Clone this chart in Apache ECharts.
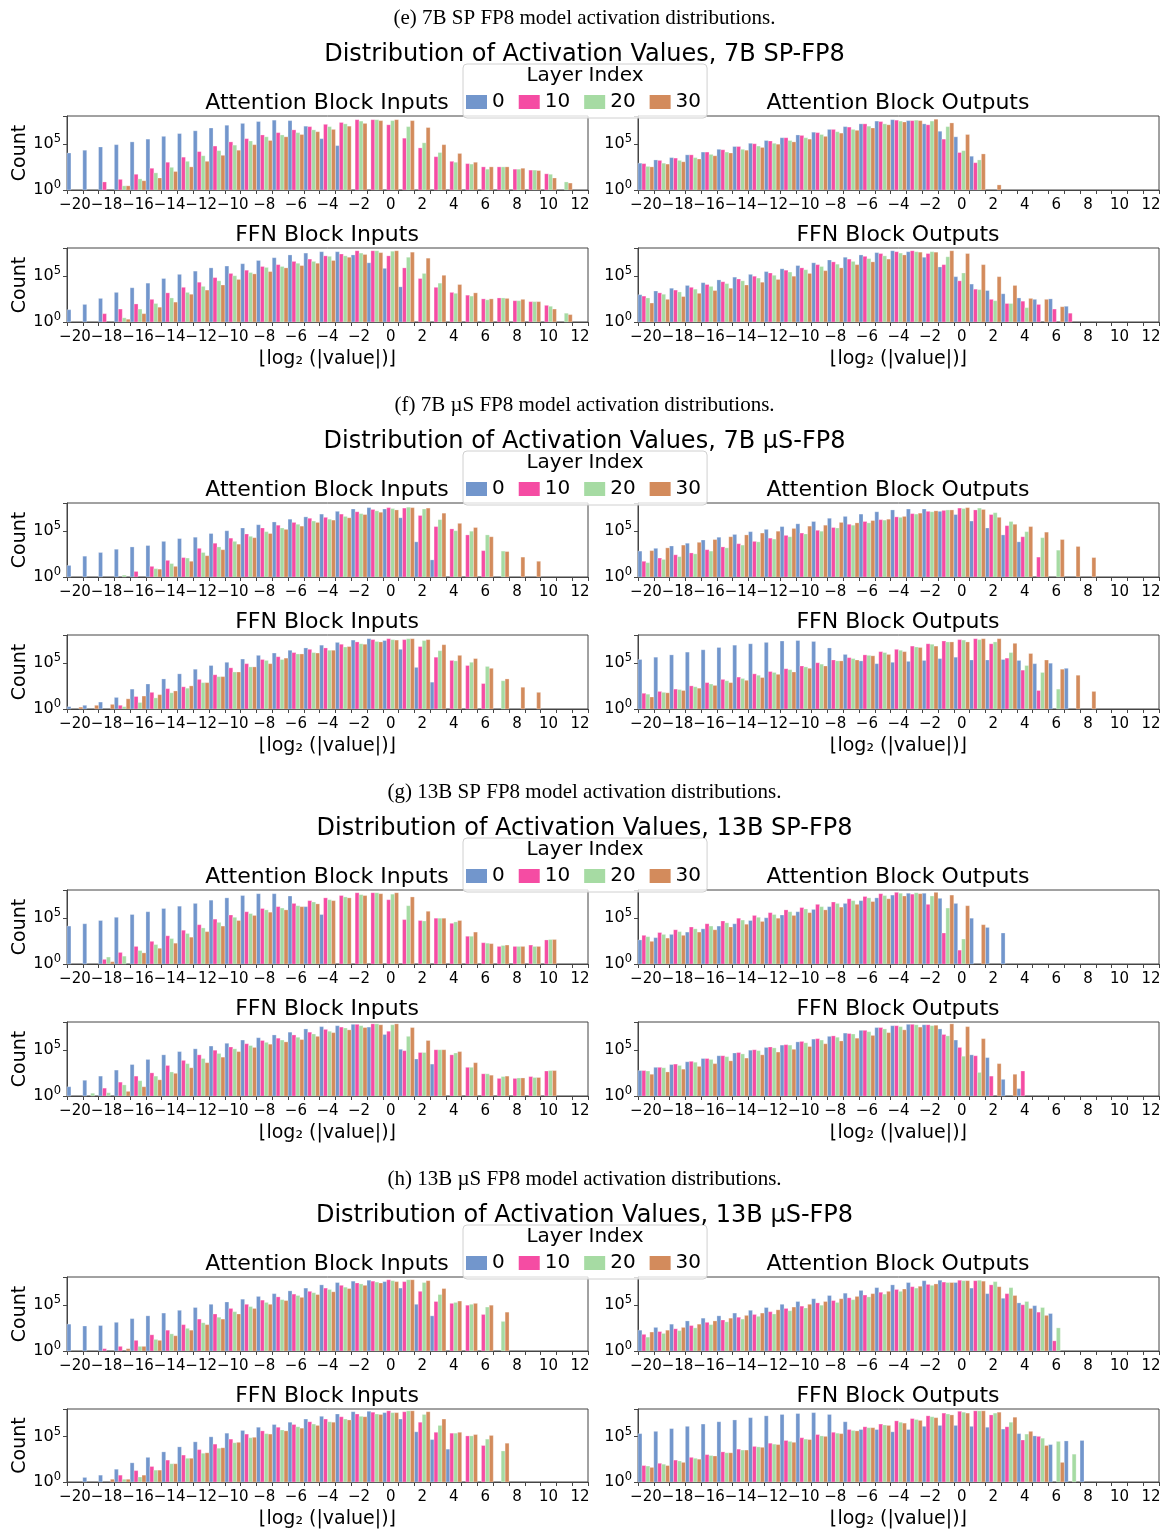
<!DOCTYPE html>
<html>
<head>
<meta charset="utf-8">
<title>Distribution of Activation Values</title>
<script src="https://cdn.jsdelivr.net/npm/echarts@6/dist/echarts.min.js"></script>
<style>
  html, body { margin: 0; background: #fff; }
  #chart { width: 1169px; height: 1530px; }
</style>
</head>
<body>
<div id="chart"></div>
<script>
// x bins: floor(log2(|value|)), one band per integer
const bins = ['−20','−19','−18','−17','−16','−15','−14','−13','−12','−11','−10','−9','−8','−7','−6','−5','−4','−3','−2','−1','0','1','2','3','4','5','6','7','8','9','10','11','12'];
const layers = ['0', '10', '20', '30'];
const colors = ['#7296cc', '#f54ca3', '#a6dba3', '#d38b5c'];

// bar heights are log10(count), starting at bin -20; _ = empty bin
const _ = null;

// (e) 7B SP-FP8
const e_attnIn_0  = [4.0,4.3,4.65,4.9,5.2,5.5,5.8,6.1,6.4,6.7,7.0,7.2,7.4,7.55,7.5,6.9,5.55,4.8];
const e_attnIn_10 = [_,_,0.87,1.15,1.7,2.35,3.0,3.55,4.15,4.75,5.2,5.55,5.95,6.2,6.5,6.85,7.1,7.3,7.6,7.6,7.05,5.6,4.55,3.6,3.1,2.85,2.5,2.5,2.25,2.15,1.75];
const e_attnIn_20 = [_,_,_,0.45,1.2,1.85,2.45,3.1,3.7,4.25,4.85,5.3,5.75,5.95,6.2,6.5,6.85,7.15,7.45,7.6,7.5,6.85,5.1,4.05,3.0,2.8,2.25,2.5,2.25,2.15,1.7,0.87];
const e_attnIn_30 = [_,_,_,0.45,1.0,1.3,2.0,2.5,3.1,3.75,4.3,4.9,5.35,5.75,6.0,6.3,6.55,6.9,7.2,7.5,7.6,7.5,6.75,4.9,3.95,3.0,2.5,2.5,2.35,2.1,1.3,0.75];
const e_attnOut_0  = [2.9,3.25,3.5,3.8,4.1,4.4,4.7,5.05,5.35,5.65,5.95,6.25,6.55,6.85,7.15,7.45,7.6,7.5,7.15,6.35,5.75,3.65];
const e_attnOut_10 = [2.85,3.2,3.45,3.8,4.1,4.35,4.7,5.0,5.3,5.65,5.9,6.2,6.55,6.8,7.15,7.4,7.55,7.5,7.05,5.5,4.05,2.95];
const e_attnOut_20 = [2.55,2.9,3.2,3.5,3.85,4.1,4.4,4.75,5.05,5.35,5.65,6.0,6.3,6.55,6.9,7.15,7.45,7.55,7.45,6.85,4.25,3.25];
const e_attnOut_30 = [2.5,2.8,3.05,3.35,3.7,4.0,4.3,4.6,4.95,5.2,5.5,5.8,6.15,6.45,6.7,7.05,7.35,7.5,7.65,7.25,6.0,3.9,0.55];
const e_ffnIn_0  = [1.33,1.9,2.55,3.2,3.7,4.2,4.7,5.15,5.5,5.85,6.05,6.3,6.65,6.95,7.25,7.45,7.6,7.6,7.25,6.4,5.8,3.8];
const e_ffnIn_10 = [_,_,0.9,1.4,1.95,2.45,3.15,3.75,4.3,4.8,5.25,5.6,6.0,6.2,6.55,6.8,7.15,7.35,7.7,7.7,7.15,5.85,4.7,3.75,3.2,2.9,2.5,2.6,2.3,2.2,1.8];
const e_ffnIn_20 = [_,_,_,0.45,1.4,2.0,2.6,3.2,3.85,4.45,5.0,5.35,5.9,6.0,6.35,6.55,7.1,7.15,7.45,7.7,7.65,7.0,5.25,4.2,3.1,2.8,2.4,2.6,2.3,2.2,1.7,0.95];
const e_ffnIn_30 = [_,_,_,0.3,0.9,1.6,2.15,3.0,3.45,4.0,4.6,5.2,5.45,5.85,6.1,6.35,6.65,7.0,7.3,7.5,7.7,7.55,6.9,5.05,4.05,3.15,2.5,2.55,2.45,2.2,1.4,0.8];
const e_ffnOut_0  = [2.95,3.35,3.65,3.95,4.25,4.55,4.85,5.15,5.45,5.75,6.1,6.4,6.7,7.0,7.25,7.5,7.7,7.6,7.0,5.95,4.9,4.1,3.4,3.05,2.6,2.45,2.5,1.7];
const e_ffnOut_10 = [2.8,3.15,3.45,3.75,4.05,4.35,4.65,4.95,5.3,5.6,5.85,6.2,6.5,6.8,7.1,7.4,7.6,7.7,7.4,6.2,4.45,3.55,2.45,2.0,2.25,1.9,1.4,0.95];
const e_ffnOut_20 = [2.6,3.0,3.25,3.55,3.85,4.15,4.45,4.75,5.05,5.4,5.65,6.0,6.25,6.55,6.85,7.15,7.45,7.6,7.6,7.05,5.3,3.5,2.3,2.0,1.55];
const e_ffnOut_30 = [2.05,2.45,2.75,3.1,3.4,3.65,4.0,4.3,4.6,4.95,5.25,5.55,5.85,6.2,6.5,6.8,7.25,7.55,7.55,7.7,7.4,6.2,4.9,3.95,2.55,2.45,1.65];

// (f) 7B uS-FP8
const f_attnIn_0  = [1.25,2.25,2.65,3.0,3.25,3.4,3.85,4.15,4.3,4.7,5.0,5.3,5.65,5.95,6.25,6.5,6.8,7.1,7.35,7.5,7.35,6.4,3.8,1.85];
const f_attnIn_10 = [_,_,_,_,0.6,1.15,1.8,2.1,3.1,3.65,4.2,4.65,5.3,5.6,5.9,6.35,6.45,6.8,7.05,7.3,7.5,7.45,6.65,5.45,5.2,4.55,2.85];
const f_attnIn_20 = [_,_,_,0.2,_,0.9,1.45,2.05,2.65,3.25,3.85,4.4,4.9,5.3,5.7,6.05,6.25,6.55,6.85,7.15,7.4,7.55,7.35,6.2,5.0,4.95,4.55,2.8];
const f_attnIn_30 = [_,_,_,_,_,0.85,1.15,1.7,2.3,2.95,3.55,4.25,4.7,5.15,5.5,5.9,6.15,6.4,6.75,7.0,7.25,7.5,7.45,6.9,5.8,5.35,4.35,2.75,2.15,1.7];
const f_attnOut_0  = [2.8,3.1,3.35,3.65,4.0,4.3,4.6,4.9,5.15,5.45,5.75,6.0,6.35,6.55,6.8,7.05,7.25,7.35,7.35,7.1,6.75,6.05,5.3,4.55,3.8];
const f_attnOut_10 = [1.7,2.05,2.4,2.6,2.95,3.25,3.6,3.85,4.2,4.5,4.75,5.05,5.35,5.7,6.0,6.2,6.5,6.85,7.1,7.2,7.45,7.25,6.75,5.55,4.35,2.15];
const f_attnOut_20 = [1.55,1.9,2.2,2.5,2.8,3.15,3.45,3.8,4.1,4.35,4.65,4.95,5.3,5.6,5.85,6.15,6.45,6.8,7.05,7.25,7.4,7.45,6.95,6.0,4.9,4.25,2.9];
const f_attnOut_30 = [2.85,3.15,3.45,3.75,4.05,4.35,4.55,4.75,4.95,5.25,5.5,5.6,5.9,5.85,6.1,6.25,6.55,6.9,7.15,7.25,7.5,7.3,6.45,5.7,5.45,4.85,4.05,3.3,2.1];
const f_ffnIn_0  = [0.25,0.4,0.75,1.25,2.15,2.7,3.25,3.8,4.3,4.7,5.05,5.4,5.8,6.05,6.35,6.6,6.9,7.2,7.45,7.6,7.4,6.45,4.5,2.9];
const f_ffnIn_10 = [_,_,_,0.4,1.35,1.8,2.2,2.4,3.2,3.7,4.45,4.9,5.35,5.65,6.1,6.45,6.6,7.0,7.25,7.5,7.6,7.5,6.75,5.6,5.25,4.7,2.75];
const f_ffnIn_20 = [_,_,_,0.25,0.7,1.2,1.75,2.25,2.85,3.5,4.0,4.55,5.25,5.35,5.95,6.1,6.35,6.7,7.05,7.3,7.5,7.6,7.4,6.3,5.2,5.05,4.6,3.05];
const f_ffnIn_30 = [0.2,0.4,0.5,1.1,1.4,1.55,1.95,2.5,2.85,3.5,4.0,4.55,4.9,5.5,5.95,6.05,6.35,6.75,7.0,7.25,7.45,7.6,7.5,6.95,5.8,5.45,4.4,3.25,2.35,1.8];
const f_ffnOut_0  = [5.35,5.6,5.85,6.15,6.4,6.65,6.9,7.05,7.2,7.35,7.4,7.3,6.6,5.9,5.2,4.9,5.05,5.15,5.25,5.45,5.6,5.3,5.3,5.35,5.25,4.9,4.95,4.4];
const f_ffnOut_10 = [1.7,1.9,2.15,2.5,2.85,3.2,3.45,3.8,4.05,4.35,4.65,5.0,5.3,5.55,5.85,6.2,6.45,6.8,7.05,7.35,7.5,7.6,7.05,5.5,4.2,2.0];
const f_ffnOut_20 = [1.6,1.8,2.1,2.4,2.7,3.05,3.3,3.65,3.95,4.25,4.55,4.85,5.2,5.45,5.8,6.1,6.35,6.7,7.0,7.25,7.45,7.5,7.25,6.1,4.7,3.95,2.15];
const f_ffnOut_30 = [1.3,1.75,2.0,2.25,2.55,2.85,3.1,3.4,3.75,4.0,4.4,4.65,5.2,5.3,5.75,5.9,6.2,6.65,6.8,7.25,7.25,7.6,7.6,7.1,6.0,5.3,4.3,3.65,1.9];

// (g) 13B SP-FP8
const g_attnIn_0  = [4.1,4.35,4.7,5.05,5.35,5.65,6.0,6.25,6.55,6.9,7.15,7.4,7.6,7.6,7.35,6.2,5.35];
const g_attnIn_10 = [_,_,0.5,1.25,1.9,2.45,3.05,3.65,4.25,4.85,5.3,5.65,6.0,6.2,6.55,6.85,7.15,7.4,7.7,7.7,6.95,4.8,4.7,4.95,4.4,3.0,2.3,1.9,1.9,2.05,2.6];
const g_attnIn_20 = [_,_,0.75,0.85,1.45,2.1,2.75,3.3,3.9,4.5,5.05,5.45,5.85,6.05,6.3,6.7,6.95,7.25,7.5,7.7,7.55,6.3,4.65,4.95,4.55,3.0,2.25,2.0,1.9,1.9,2.65];
const g_attnIn_30 = [_,_,0.25,_,1.2,1.7,2.25,2.9,3.5,4.1,4.7,5.25,5.6,5.85,6.2,6.5,6.85,7.15,7.4,7.6,7.7,7.25,5.7,4.95,4.7,3.45,2.2,2.05,1.9,1.9,2.65];
const g_attnOut_0  = [2.6,2.85,3.2,3.45,3.8,4.1,4.35,4.7,5.0,5.3,5.65,5.9,6.2,6.55,6.85,7.15,7.45,7.65,7.65,7.1,6.55,4.95,3.95,3.35];
const g_attnOut_10 = [3.1,3.4,3.7,4.0,4.35,4.65,4.95,5.25,5.55,5.85,6.1,6.45,6.7,7.05,7.3,7.6,7.75,7.55,6.45,3.35,1.5];
const g_attnOut_20 = [2.95,3.2,3.5,3.8,4.1,4.45,4.75,5.05,5.35,5.65,5.95,6.2,6.55,6.85,7.15,7.4,7.65,7.7,7.35,6.05,2.7];
const g_attnOut_30 = [2.45,2.8,3.1,3.45,3.7,4.0,4.3,4.6,4.95,5.25,5.55,5.85,6.15,6.45,6.75,7.05,7.35,7.6,7.75,7.45,6.3,4.25];
const g_ffnIn_0  = [1.0,1.7,2.15,2.8,3.4,3.95,4.45,4.8,5.1,5.4,5.7,6.05,6.3,6.6,6.9,7.25,7.5,7.6,7.75,7.45,6.65,5.05,4.0,3.45];
const g_ffnIn_10 = [_,_,0.85,1.5,2.15,2.5,3.3,3.85,4.45,4.95,5.3,5.65,6.0,6.25,6.6,6.9,7.2,7.45,7.75,7.8,7.0,4.9,4.7,5.0,4.45,3.1,2.4,1.9,1.9,2.1,2.7];
const g_ffnIn_20 = [_,0.3,0.35,1.2,1.65,2.15,2.6,3.5,4.05,4.6,5.1,5.45,5.8,6.05,6.35,6.7,7.0,7.35,7.6,7.8,7.7,6.45,4.7,5.0,4.65,3.1,2.4,2.1,1.95,2.0,2.75];
const g_ffnIn_30 = [_,_,_,0.5,1.0,1.75,2.45,3.05,3.6,4.2,4.8,5.25,5.6,5.85,6.1,6.45,6.85,7.15,7.4,7.7,7.8,7.4,6.0,5.0,4.8,3.6,2.25,2.15,1.95,2.0,2.75];
const g_ffnOut_0  = [2.75,3.1,3.4,3.7,4.05,4.35,4.65,4.95,5.25,5.5,5.85,6.15,6.45,6.8,7.1,7.4,7.6,7.75,7.7,7.25,6.05,4.45,4.15,1.8,0.8];
const g_ffnOut_10 = [2.75,3.1,3.45,3.75,4.05,4.35,4.7,5.0,5.3,5.55,5.9,6.2,6.5,6.75,7.1,7.4,7.6,7.75,7.7,6.65,5.25,4.35,2.15,_,2.7];
const g_ffnOut_20 = [2.7,3.05,3.3,3.65,3.95,4.25,4.55,4.9,5.2,5.5,5.75,6.05,6.35,6.7,6.95,7.25,7.5,7.7,7.6,6.5,4.3,2.55];
const g_ffnOut_30 = [2.35,2.6,2.9,3.2,3.5,3.8,4.1,4.45,4.75,5.05,5.35,5.65,5.95,6.25,6.55,6.85,7.15,7.45,7.65,7.8,7.5,6.2,3.5,2.35];

// (h) 13B uS-FP8
const h_attnIn_0  = [2.9,2.7,2.75,3.1,3.5,3.8,4.1,4.4,4.7,5.05,5.3,5.6,5.9,6.2,6.5,6.8,7.15,7.4,7.55,7.65,7.5,6.8,5.05,3.8];
const h_attnIn_10 = [_,_,0.25,0.5,1.15,1.75,2.25,2.85,3.45,4.0,4.6,5.05,5.5,5.85,6.15,6.45,6.8,7.1,7.35,7.55,7.7,7.5,6.45,5.35,5.15,4.95,3.95];
const h_attnIn_20 = [_,_,_,_,0.5,1.25,1.85,2.45,3.05,3.65,4.25,4.8,5.25,5.55,6.0,6.3,6.65,6.9,7.25,7.45,7.6,7.7,7.4,6.1,5.25,5.05,4.75,3.2];
const h_attnIn_30 = [_,_,_,0.25,0.5,1.15,1.65,2.25,2.85,3.45,4.0,4.6,5.05,5.45,5.8,6.1,6.4,6.75,7.1,7.35,7.5,7.7,7.6,6.75,5.4,5.15,4.95,4.2];
const h_attnOut_0  = [2.25,2.55,2.9,3.25,3.55,3.8,4.1,4.4,4.7,5.05,5.35,5.65,6.0,6.25,6.55,6.85,7.15,7.4,7.6,7.65,7.4,6.8,6.2,5.7,5.2,4.9,4.05];
const h_attnOut_10 = [1.8,2.1,2.4,2.75,3.1,3.35,3.65,3.95,4.25,4.6,4.85,5.2,5.45,5.75,6.05,6.35,6.65,6.95,7.2,7.45,7.65,7.6,7.15,6.2,5.0,4.2,1.1];
const h_attnOut_20 = [1.5,1.9,2.2,2.5,2.85,3.15,3.45,3.75,4.0,4.35,4.65,4.95,5.25,5.55,5.85,6.15,6.45,6.8,7.1,7.4,7.6,7.65,7.5,6.85,5.35,4.7,2.5];
const h_attnOut_30 = [2.05,2.25,2.55,2.9,3.25,3.55,3.85,4.1,4.45,4.75,5.05,5.35,5.65,5.9,6.2,6.45,6.7,7.0,7.25,7.4,7.6,7.55,6.95,6.0,4.6,3.85];
const h_ffnIn_0  = [_,0.5,0.75,1.4,2.1,2.7,3.3,3.85,4.4,4.95,5.35,5.65,6.0,6.3,6.55,6.9,7.2,7.45,7.7,7.75,7.6,6.9,5.5,4.65,3.6];
const h_ffnIn_10 = [_,_,_,0.75,1.25,1.7,2.4,2.95,3.55,4.15,4.7,5.25,5.6,6.0,6.3,6.6,6.9,7.15,7.45,7.65,7.8,7.7,6.55,5.45,5.35,5.05,4.0];
const h_ffnIn_20 = [_,_,_,0.3,0.55,1.3,2.0,2.6,3.15,3.7,4.3,4.85,5.3,5.7,6.05,6.35,6.6,6.9,7.2,7.45,7.6,7.8,7.4,6.2,5.35,5.05,4.7,3.4];
const h_ffnIn_30 = [_,_,0.3,0.3,0.75,1.3,2.0,2.6,3.2,3.75,4.35,4.9,5.25,5.6,5.9,6.2,6.55,6.8,7.15,7.4,7.6,7.8,7.7,6.9,5.45,5.2,5.1,4.25];
const h_ffnOut_0  = [5.3,5.55,5.85,6.1,6.35,6.6,6.8,7.05,7.25,7.4,7.5,7.6,7.4,6.6,5.75,5.75,5.5,5.75,6.1,6.2,6.2,6.1,6.0,5.8,5.3,5.05,4.1,4.5,4.55];
const h_ffnOut_10 = [1.8,2.05,2.4,2.7,3.0,3.3,3.6,3.9,4.25,4.55,4.85,5.2,5.45,5.75,6.05,6.35,6.7,6.95,7.25,7.55,7.75,7.8,7.35,6.05,4.6,5.0];
const h_ffnOut_20 = [1.75,1.95,2.3,2.6,2.9,3.2,3.5,3.85,4.15,4.45,4.7,5.05,5.35,5.65,5.95,6.25,6.55,6.85,7.15,7.45,7.65,7.8,7.55,6.55,5.25,4.8,4.45,3.05];
const h_ffnOut_30 = [1.6,1.8,2.15,2.5,2.85,3.2,3.5,3.8,4.1,4.35,4.65,5.0,5.3,5.6,5.95,6.2,6.45,6.75,7.05,7.35,7.55,7.8,7.65,7.1,5.55,4.0,2.15];

const captions = [
  '(e) 7B SP FP8 model activation distributions.',
  '(f) 7B µS FP8 model activation distributions.',
  '(g) 13B SP FP8 model activation distributions.',
  '(h) 13B µS FP8 model activation distributions.'
];
const figTitles = [
  'Distribution of Activation Values, 7B SP-FP8',
  'Distribution of Activation Values, 7B µS-FP8',
  'Distribution of Activation Values, 13B SP-FP8',
  'Distribution of Activation Values, 13B µS-FP8'
];
const panelTitles = ['Attention Block Inputs', 'Attention Block Outputs', 'FFN Block Inputs', 'FFN Block Outputs'];

// panel order per figure: attn in, attn out, ffn in, ffn out
const panels = [
  [e_attnIn_0, e_attnIn_10, e_attnIn_20, e_attnIn_30],
  [e_attnOut_0, e_attnOut_10, e_attnOut_20, e_attnOut_30],
  [e_ffnIn_0, e_ffnIn_10, e_ffnIn_20, e_ffnIn_30],
  [e_ffnOut_0, e_ffnOut_10, e_ffnOut_20, e_ffnOut_30],
  [f_attnIn_0, f_attnIn_10, f_attnIn_20, f_attnIn_30],
  [f_attnOut_0, f_attnOut_10, f_attnOut_20, f_attnOut_30],
  [f_ffnIn_0, f_ffnIn_10, f_ffnIn_20, f_ffnIn_30],
  [f_ffnOut_0, f_ffnOut_10, f_ffnOut_20, f_ffnOut_30],
  [g_attnIn_0, g_attnIn_10, g_attnIn_20, g_attnIn_30],
  [g_attnOut_0, g_attnOut_10, g_attnOut_20, g_attnOut_30],
  [g_ffnIn_0, g_ffnIn_10, g_ffnIn_20, g_ffnIn_30],
  [g_ffnOut_0, g_ffnOut_10, g_ffnOut_20, g_ffnOut_30],
  [h_attnIn_0, h_attnIn_10, h_attnIn_20, h_attnIn_30],
  [h_attnOut_0, h_attnOut_10, h_attnOut_20, h_attnOut_30],
  [h_ffnIn_0, h_ffnIn_10, h_ffnIn_20, h_ffnIn_30],
  [h_ffnOut_0, h_ffnOut_10, h_ffnOut_20, h_ffnOut_30]
];

const FIG_H = 387;
const AXIS = '#444';

// only 10^0 and 10^5 get a label, as in the source figure
function yLabel(v) {
  const e = Math.log10(v);
  const r = Math.round(e);
  if (Math.abs(e - r) > 1e-6 || (r !== 0 && r !== 5)) return '';
  return '{b|10}{s|' + r + '}';
}

// 4 dodged bars per bin, each a quarter of the band
function barRenderer(hue) {
  return function (params, api) {
    const idx = api.value(0);
    const top = api.coord([idx, api.value(1)]);
    const base = api.coord([idx, 1]);
    const bw = api.size([1, 1], [idx, 10])[0];
    const x = top[0] - bw / 2 + hue * bw / 4;
    const cs = params.coordSys;
    const rect = echarts.graphic.clipRectByRect(
      { x: x, y: top[1], width: bw / 4, height: base[1] - top[1] },
      { x: cs.x, y: cs.y, width: cs.width, height: cs.height }
    );
    if (!rect) return;
    return {
      type: 'rect',
      shape: rect,
      style: { fill: colors[hue], stroke: 'rgba(255,255,255,0.55)', lineWidth: 0.5 }
    };
  };
}

const titles = [], legends = [], grids = [], xAxes = [], yAxes = [], series = [];

for (let f = 0; f < 4; f++) {
  const oy = FIG_H * f;
  titles.push({
    text: captions[f], left: 'center', top: oy + 8, padding: 0,
    textStyle: { fontFamily: 'Liberation Serif', fontSize: 21, fontWeight: 'normal', color: '#000' }
  });
  titles.push({
    text: figTitles[f], left: 'center', top: oy + 43, padding: 0,
    textStyle: { fontSize: 24, fontWeight: 'normal', color: '#000' }
  });
  titles.push({
    text: 'Layer Index', left: 585, textAlign: 'center', top: oy + 66, padding: 0, z: 10,
    textStyle: { fontSize: 20, fontWeight: 'normal', color: '#000' }
  });
  legends.push({
    data: layers, left: 463, top: oy + 64, orient: 'horizontal',
    padding: [28, 6, 6, 3], itemGap: 14, itemWidth: 21, itemHeight: 14,
    icon: 'rect', selectedMode: false,
    borderColor: '#d0d0d0', borderWidth: 1, borderRadius: 4,
    backgroundColor: 'rgba(255,255,255,0.8)',
    textStyle: { fontSize: 20, color: '#000' }
  });

  for (let p = 0; p < 4; p++) {
    const gi = f * 4 + p;
    const right = p % 2 === 1;
    const bottomRow = p >= 2;
    const left = right ? 638 : 67;
    const top = oy + (bottomRow ? 248 : 116);

    titles.push({
      text: panelTitles[p], left: left + 260, textAlign: 'center', top: top - 24, padding: 0,
      textStyle: { fontSize: 22, fontWeight: 'normal', color: '#000' }
    });

    grids.push({
      left: left, top: top, width: 521, height: 74,
      show: true, borderColor: AXIS, borderWidth: 1, backgroundColor: 'transparent'
    });

    xAxes.push({
      type: 'category', gridIndex: gi, data: bins,
      axisLine: { show: true, lineStyle: { color: AXIS } },
      axisTick: { show: true, interval: 0, length: 4, lineStyle: { color: AXIS } },
      axisLabel: { interval: 1, fontSize: 15, color: '#000', margin: 8 },
      splitLine: { show: false },
      name: bottomRow ? '⌊log₂ (|value|)⌋' : '',
      nameLocation: 'middle', nameGap: 28,
      nameTextStyle: { fontSize: 19, color: '#000' }
    });

    yAxes.push({
      type: 'log', logBase: 10, gridIndex: gi, min: 1, max: 1e8, interval: 5,
      axisLine: { show: true, lineStyle: { color: AXIS } },
      axisTick: { show: true, length: 4, lineStyle: { color: AXIS } },
      axisLabel: {
        formatter: yLabel, color: '#000', margin: 6,
        rich: {
          b: { fontSize: 16, color: '#000' },
          s: { fontSize: 11.5, color: '#000', padding: [0, 0, 9, 0] }
        }
      },
      splitLine: { show: false },
      name: right ? '' : 'Count',
      nameLocation: 'middle', nameGap: 37, nameRotate: 90,
      nameTextStyle: { fontSize: 19, color: '#000' }
    });

    panels[gi].forEach(function (arr, hue) {
      const data = [];
      arr.forEach(function (v, i) {
        if (v != null) data.push([i, Math.pow(10, v)]);
      });
      series.push({
        type: 'custom',
        name: layers[hue],
        xAxisIndex: gi,
        yAxisIndex: gi,
        renderItem: barRenderer(hue),
        encode: { x: 0, y: 1 },
        itemStyle: { color: colors[hue] },
        silent: true,
        data: data
      });
    });
  }
}

const chart = echarts.init(document.getElementById('chart'), null, { renderer: 'canvas' });
chart.setOption({
  animation: false,
  backgroundColor: '#fff',
  textStyle: { fontFamily: 'DejaVu Sans' },
  title: titles,
  legend: legends,
  grid: grids,
  xAxis: xAxes,
  yAxis: yAxes,
  series: series
});
window.addEventListener('resize', () => {
  chart && chart.resize();
});
</script>
</body>
</html>
